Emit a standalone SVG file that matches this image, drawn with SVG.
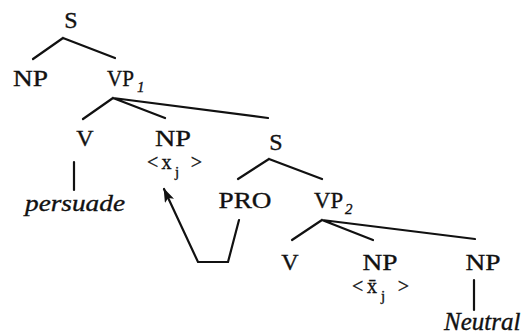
<svg xmlns="http://www.w3.org/2000/svg" width="525" height="334" viewBox="0 0 525 334">
<defs>
<style>
text{font-family:"Liberation Serif","Times New Roman",serif;font-size:24px;fill:#111;stroke:#111;stroke-width:0.35;}
.c{text-anchor:middle;}
.i{font-style:italic;}
.sub{font-size:15px;}
.e{stroke:#111;stroke-width:2.2;fill:none;stroke-linecap:round;}
</style>
<marker id="ah" viewBox="0 0 14 10" refX="13" refY="5" markerWidth="14" markerHeight="10" markerUnits="userSpaceOnUse" orient="auto">
<path d="M0,0 L14,5 L0,10 L3,5 Z" fill="#111"/>
</marker>
</defs>
<rect width="525" height="334" fill="#fff"/>
<g id="connectors">
<path class="e" d="M63,38 L33,59 M63,38 L115,58"/>
<path class="e" d="M113,98 L83,119 M113,98 L165,118 M113,98 L268,118"/>
<path class="e" d="M74,162 L74,190"/>
<path class="e" d="M269,159 L238,179 M269,159 L322,179"/>
<path class="e" d="M322,220 L292,240 M322,220 L373,240 M322,220 L475,239"/>
<path class="e" d="M474,280 L474,310"/>
<path class="e" d="M239,220 L228,262 L198,262 L164,189" marker-end="url(#ah)"/>
</g>
<g id="s1"><text class="c" x="71" y="28">S</text></g>
<g id="np1"><text class="c" x="30.5" y="86" textLength="35" lengthAdjust="spacingAndGlyphs">NP</text></g>
<g id="vp1"><text x="107" y="86" textLength="27" lengthAdjust="spacingAndGlyphs">VP</text><text class="sub i" x="137" y="92">1</text></g>
<g id="v1"><text class="c" x="85" y="146">V</text></g>
<g id="persuade"><text class="i" x="25" y="211" textLength="100" lengthAdjust="spacingAndGlyphs">persuade</text></g>
<g id="np2"><text class="c" x="173" y="146" textLength="36" lengthAdjust="spacingAndGlyphs">NP</text>
<text x="147" y="169" style="font-size:20px" textLength="55" lengthAdjust="spacing">&lt;x<tspan class="sub" dy="8">j</tspan><tspan dy="-8"> &gt;</tspan></text></g>
<g id="s2"><text class="c" x="276" y="150">S</text></g>
<g id="pro"><text class="c" x="245" y="208" textLength="53" lengthAdjust="spacingAndGlyphs">PRO</text></g>
<g id="vp2"><text x="314" y="208" textLength="29" lengthAdjust="spacingAndGlyphs">VP</text><text class="sub i" x="345" y="214">2</text></g>
<g id="v3"><text class="c" x="290" y="270">V</text></g>
<g id="np3"><text class="c" x="380" y="270" textLength="35" lengthAdjust="spacingAndGlyphs">NP</text>
<text x="352" y="293" style="font-size:20px" textLength="57" lengthAdjust="spacing">&lt;x̄<tspan class="sub" dy="8">j</tspan><tspan dy="-8"> &gt;</tspan></text></g>
<g id="np4"><text class="c" x="483" y="270" textLength="35" lengthAdjust="spacingAndGlyphs">NP</text></g>
<g id="neutral"><text class="i" x="444" y="330" style="font-size:25px">Neutral</text></g>
</svg>
